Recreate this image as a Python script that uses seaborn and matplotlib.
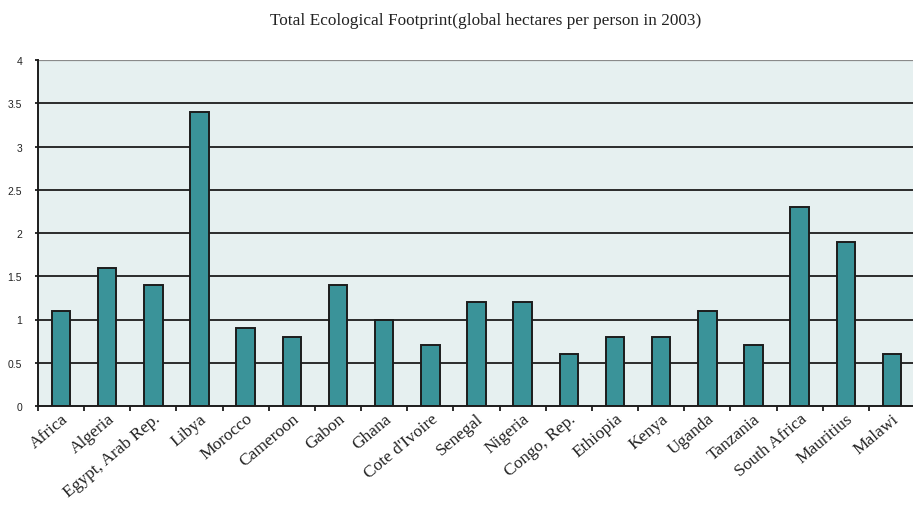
import matplotlib
matplotlib.use("Agg")
import matplotlib.pyplot as plt
import matplotlib.transforms as mtransforms
import seaborn as sns
import pandas as pd

countries = ["Africa", "Algeria", "Egypt, Arab Rep.", "Libya", "Morocco", "Cameroon",
             "Gabon", "Ghana", "Cote d'Ivoire", "Senegal", "Nigeria", "Congo, Rep.",
             "Ethiopia", "Kenya", "Uganda", "Tanzania", "South Africa", "Mauritius", "Malawi"]
values = [1.1, 1.6, 1.4, 3.4, 0.9, 0.8, 1.4, 1.0, 0.7, 1.2, 1.2, 0.6,
          0.8, 0.8, 1.1, 0.7, 2.3, 1.9, 0.6]
yticks = [0, 0.5, 1, 1.5, 2, 2.5, 3, 3.5, 4]
ytick_labels = ["0", "0.5", "1", "1.5", "2", "2.5", "3", "3.5", "4"]
title = "Total Ecological Footprint(global hectares per person in 2003)"

df = pd.DataFrame({"country": countries, "value": values})

sns.set_theme(style="white")
fig = plt.figure(figsize=(9.13, 5.06), dpi=100)
ax = fig.add_axes([38/913, 99/506, 877/913, 346/506])
ax.set_facecolor("#E6F0F0")

for y in yticks[1:-1]:
    ax.axhline(y, color="#1c1c1c", lw=1.3, zorder=0)
ax.axhline(4, color="#8a8a8a", lw=1.6, zorder=0)

sns.barplot(data=df, x="country", y="value", color="#3A9399", saturation=1,
            width=0.4, edgecolor="#1c1c1c", linewidth=1.4, ax=ax, zorder=2)

ax.set_ylim(0, 4)
ax.set_xlim(-0.5, len(countries) - 0.5)
ax.set_yticks(yticks)
ax.set_yticklabels(ytick_labels, fontsize=7.5, family="Liberation Sans", color="#222222")
ax.set_xticks(range(len(countries)))
ax.set_xticklabels(countries, rotation=40, ha="right", rotation_mode="anchor",
                   fontsize=12.5, family="Liberation Serif", color="#222222")
offset = mtransforms.ScaledTranslation(4/100, 0, fig.dpi_scale_trans)
for lbl in ax.get_xticklabels():
    lbl.set_transform(lbl.get_transform() + offset)
ax.set_xticks([i - 0.5 for i in range(len(countries) + 1)], minor=True)
ax.tick_params(axis="x", which="major", length=0, pad=3)
ax.tick_params(axis="x", which="minor", length=3.5, width=1.3, color="#1c1c1c", direction="out", bottom=True)
ax.tick_params(axis="y", which="major", length=2.5, width=1.3, color="#1c1c1c", direction="out", left=True, pad=9)

for s in ["top", "right"]:
    ax.spines[s].set_visible(False)
for s in ["left", "bottom"]:
    ax.spines[s].set_color("#1c1c1c")
    ax.spines[s].set_linewidth(1.4)

ax.set_xlabel("")
ax.set_ylabel("")
fig.text(0.532, 0.958, title, ha="center", va="center", fontsize=12.4,
         family="Liberation Serif", color="#222222")

fig.savefig("out.png", dpi=100, facecolor="white")
